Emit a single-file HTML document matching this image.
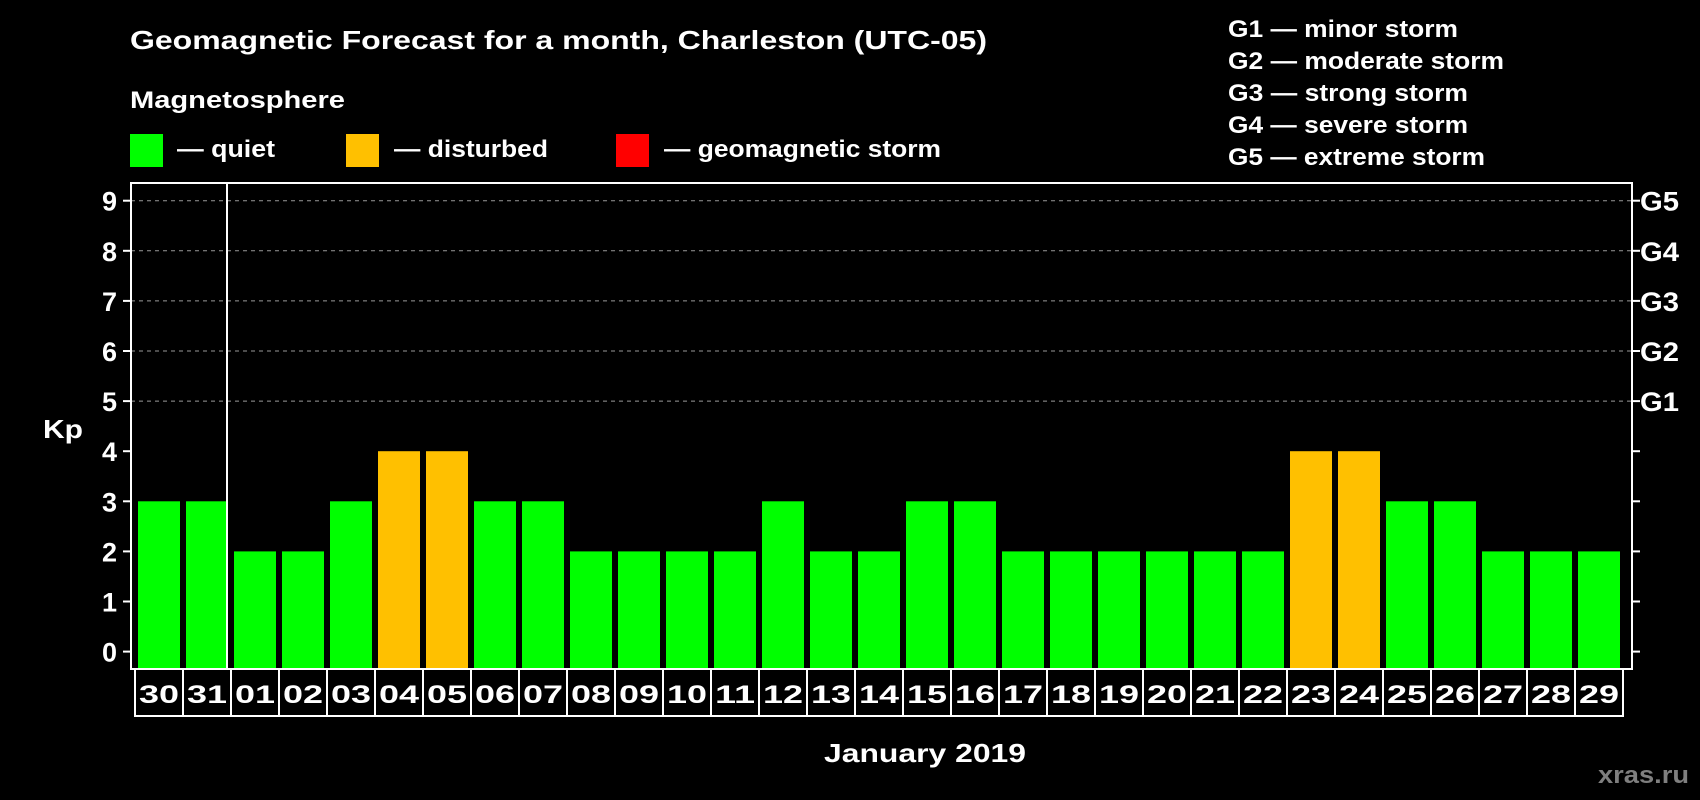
<!DOCTYPE html>
<html><head><meta charset="utf-8"><style>
html,body{margin:0;padding:0;background:#000;}
svg{display:block;}
text{font-family:"Liberation Sans",Arial,"DejaVu Sans",sans-serif;font-weight:bold;}
</style></head><body>
<svg id="chart" width="1700" height="800" viewBox="0 0 1700 800">
<text x="130" y="49" fill="#fff" font-size="26" textLength="857" lengthAdjust="spacingAndGlyphs">Geomagnetic Forecast for a month, Charleston (UTC-05)</text>
<text x="130" y="108" fill="#fff" font-size="24" textLength="215" lengthAdjust="spacingAndGlyphs">Magnetosphere</text>
<rect x="130" y="134" width="33" height="33" fill="#00ff00"/>
<text x="177" y="157" fill="#fff" font-size="24" textLength="98" lengthAdjust="spacingAndGlyphs">— quiet</text>
<rect x="346" y="134" width="33" height="33" fill="#ffc000"/>
<text x="394" y="157" fill="#fff" font-size="24" textLength="154" lengthAdjust="spacingAndGlyphs">— disturbed</text>
<rect x="616" y="134" width="33" height="33" fill="#ff0000"/>
<text x="664" y="157" fill="#fff" font-size="24" textLength="277" lengthAdjust="spacingAndGlyphs">— geomagnetic storm</text>
<g fill="#fff" font-size="24">
<text x="1228" y="37" textLength="230" lengthAdjust="spacingAndGlyphs">G1 — minor storm</text>
<text x="1228" y="69" textLength="276" lengthAdjust="spacingAndGlyphs">G2 — moderate storm</text>
<text x="1228" y="101" textLength="240" lengthAdjust="spacingAndGlyphs">G3 — strong storm</text>
<text x="1228" y="133" textLength="240" lengthAdjust="spacingAndGlyphs">G4 — severe storm</text>
<text x="1228" y="165" textLength="257" lengthAdjust="spacingAndGlyphs">G5 — extreme storm</text>
</g>
<text x="43" y="438" fill="#fff" font-size="26" textLength="40" lengthAdjust="spacingAndGlyphs">Kp</text>
<text x="824" y="762" fill="#fff" font-size="26" textLength="202" lengthAdjust="spacingAndGlyphs">January 2019</text>
<text x="1598" y="783" fill="#7f7f7f" font-size="24" textLength="91" lengthAdjust="spacingAndGlyphs">xras.ru</text>
<g id="grid"></g><g id="bars"></g><g id="axes"></g>
</svg>
<script>
const days=["30","31","01","02","03","04","05","06","07","08","09","10","11","12","13","14","15","16","17","18","19","20","21","22","23","24","25","26","27","28","29"];
const kp=[3,3,2,2,3,4,4,3,3,2,2,2,2,3,2,2,3,3,2,2,2,2,2,2,4,4,3,3,2,2,2];
const yTicks=[0,1,2,3,4,5,6,7,8,9];
const gLabels=["G1","G2","G3","G4","G5"];
const NS="http://www.w3.org/2000/svg";
const L=131,R=1632,T=183,B=669;
function y(v){return 651.6-v*50.1;}
function x(i){return 135+i*48;}
function mk(t,a,p){const e=document.createElementNS(NS,t);for(const k in a)e.setAttribute(k,a[k]);p.appendChild(e);return e;}
const grid=document.getElementById('grid'),bars=document.getElementById('bars'),axes=document.getElementById('axes');
yTicks.forEach(v=>{
  if(v>=5){const g=mk('line',{x1:L,x2:R,y1:y(v),y2:y(v),stroke:'#999','stroke-width':1,'stroke-dasharray':'4,4'},grid);
  
  }
  const t1=mk('line',{x1:L-8,x2:L,y1:y(v),y2:y(v),stroke:'#fff','stroke-width':2},axes);
  
  
  const t2=mk('line',{x1:R,x2:R+8,y1:y(v),y2:y(v),stroke:'#fff','stroke-width':2},axes);
  
  
  const l=mk('text',{x:117,y:y(v)+10,fill:'#fff','font-size':27,'text-anchor':'end'},axes);
  l.textContent=v;
  
  
});
gLabels.forEach((g,i)=>{
  const l=mk('text',{x:1640,y:y(i+5)+10,fill:'#fff','font-size':27,textLength:39,lengthAdjust:'spacingAndGlyphs'},axes);
  l.textContent=g;
  
  
});
kp.forEach((v,i)=>{
  const c=v>=5?'#ff0000':(v>=4?'#ffc000':'#00ff00');
  const b=mk('rect',{x:x(i)+3,y:y(v),width:42,height:B-y(v),fill:c},bars);
  
  
  const bx=mk('rect',{x:x(i),y:B,width:48,height:47,fill:'none',stroke:'#fff','stroke-width':2},axes);
  
  
  const t=mk('text',{x:x(i)+4,y:703,fill:'#fff','font-size':25,textLength:40,lengthAdjust:'spacingAndGlyphs'},axes);
  t.textContent=days[i];
  
  
});
const fr=mk('rect',{x:L,y:T,width:R-L,height:B-T,fill:'none',stroke:'#fff','stroke-width':2},axes);


const dv=mk('line',{x1:x(2)-4,x2:x(2)-4,y1:T,y2:B,stroke:'#fff','stroke-width':2},axes);


</script>
</body></html>
